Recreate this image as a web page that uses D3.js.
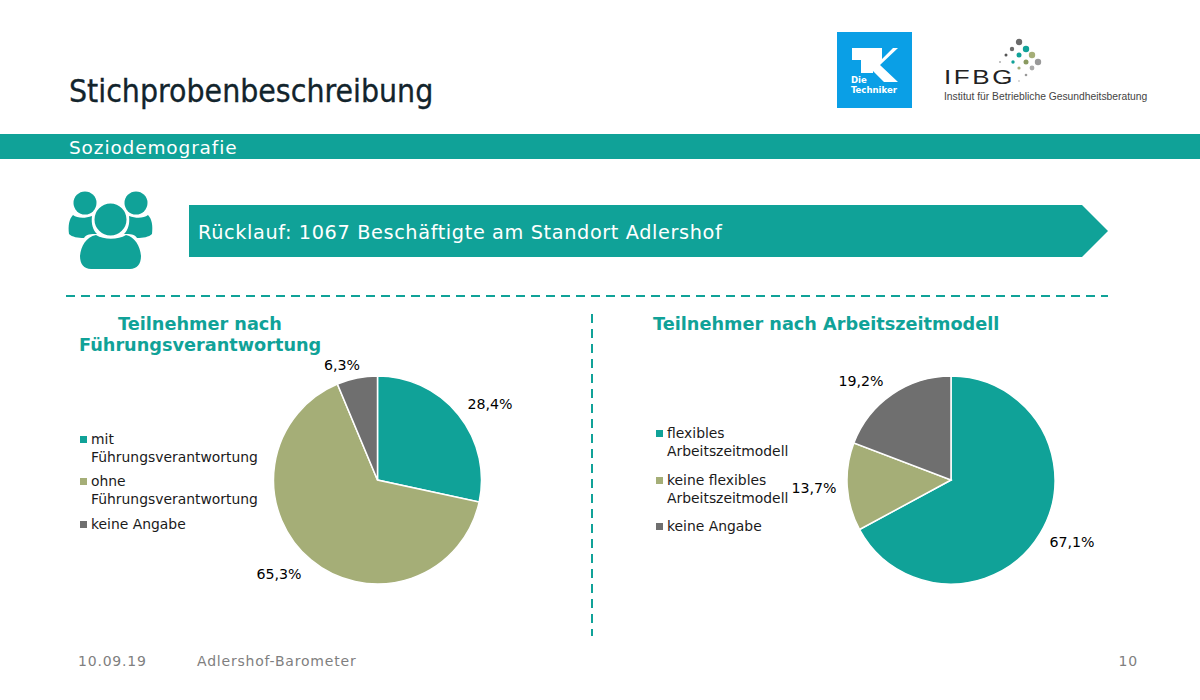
<!DOCTYPE html>
<html lang="de">
<head>
    <meta charset="UTF-8">
    <title>Stichprobenbeschreibung</title>
    <style>
        html, body { margin: 0; padding: 0; background: #fff; }
        svg { display: block; }
        text { font-family: "DejaVu Sans", Verdana, sans-serif; }
    </style>
</head>
<body>
    <svg id="chart" width="1200" height="700"></svg>

    <script src="https://d3js.org/d3.v7.min.js"></script>
    <script>
        // Chart data
        const leftValues = [28.4, 65.3, 6.3];
        const leftLabels = ['28,4%', '65,3%', '6,3%'];
        const leftLegend = [['mit', 'Führungsverantwortung'], ['ohne', 'Führungsverantwortung'], ['keine Angabe']];
        const rightValues = [67.1, 13.7, 19.2];
        const rightLabels = ['67,1%', '13,7%', '19,2%'];
        const rightLegend = [['flexibles', 'Arbeitszeitmodell'], ['keine flexibles', 'Arbeitszeitmodell'], ['keine Angabe']];
        const sliceColors = ['#10a298', '#a5ae77', '#6f6f6f'];

        const TEAL = '#10a298';
        const svg = d3.select('#chart');

        // Header
        svg.append('text').attr('x', 69).attr('y', 102)
            .style('font-family', '"DejaVu Sans Condensed", "DejaVu Sans", sans-serif')
            .style('font-stretch', 'condensed')
            .attr('font-size', 31.7).attr('fill', '#12242c')
            .attr('stroke', '#12242c').attr('stroke-width', 0.3)
            .text('Stichprobenbeschreibung');
        svg.append('rect').attr('x', 0).attr('y', 134).attr('width', 1200).attr('height', 25).attr('fill', TEAL);
        svg.append('text').attr('x', 69).attr('y', 153.5)
            .attr('font-size', 18.5).attr('letter-spacing', 0.87).attr('fill', '#fff').text('Soziodemografie');

        // TK logo
        const tk = svg.append('g');
        tk.append('rect').attr('x', 837).attr('y', 32).attr('width', 75).attr('height', 76).attr('fill', '#0a9fe6');
        tk.append('path').attr('fill', '#fff')
            .attr('d', 'M852,48H882V59L893,48H898L880,65L898,82H884L873,71V73H861V60H852Z');
        tk.append('text').attr('x', 851).attr('y', 83).attr('font-size', 9.5).attr('font-weight', 700)
            .style('font-family', '"DejaVu Sans Condensed", sans-serif')
            .attr('fill', '#fff').text('Die');
        tk.append('text').attr('x', 851).attr('y', 93).attr('font-size', 9.5).attr('font-weight', 700)
            .style('font-family', '"DejaVu Sans Condensed", sans-serif')
            .attr('fill', '#fff').text('Techniker');

        // IFBG logo
        const ifbgDots = [
            [1019, 42, 3.2, '#6b6b6b'], [1012, 49, 2.2, '#6b6b6b'], [1026, 49, 3.2, '#10a298'],
            [1006, 55, 1.5, '#555'], [1019, 55, 2.5, '#10a298'], [1032, 55, 3.2, '#a5ae77'],
            [1000, 62, 0.8, '#777'], [1013, 62, 1.7, '#10a298'], [1026, 62, 2.5, '#8a9a60'], [1038, 62, 3.2, '#999'],
            [1019, 68, 1.6, '#a5ae77'], [1032, 68, 2.4, '#aaa'], [1026, 75, 1.3, '#999'], [1019, 81, 0.7, '#999']
        ];
        svg.append('g').selectAll('circle').data(ifbgDots).join('circle')
            .attr('cx', d => d[0]).attr('cy', d => d[1]).attr('r', d => d[2]).attr('fill', d => d[3]);
        svg.append('text').attr('transform', 'translate(944,84) scale(1.3,1)')
            .style('font-family', '"Liberation Sans", sans-serif')
            .attr('font-size', 20).attr('letter-spacing', 2).attr('fill', '#222').text('IFBG');
        svg.append('text').attr('x', 944).attr('y', 100)
            .style('font-family', '"Liberation Sans", sans-serif')
            .attr('font-size', 10.3).attr('fill', '#444').text('Institut für Betriebliche Gesundheitsberatung');

        // People icon
        const people = svg.append('g').attr('fill', TEAL);
        people.append('circle').attr('cx', 85).attr('cy', 203).attr('r', 11.5);
        people.append('circle').attr('cx', 136).attr('cy', 203).attr('r', 11.5);
        people.append('path').attr('d', 'M73,215C77,218 84,219 92,216C91,224 93,230 97,234C91,234 86,234 84,238C78,238 72,237 69,234C68,226 69,219 73,215Z');
        people.append('path').attr('d', 'M148,215C144,218 137,219 129,216C130,224 128,230 124,234C130,234 135,234 137,238C143,238 149,237 152,234C153,226 152,219 148,215Z');
        people.append('circle').attr('cx', 110.5).attr('cy', 219.5).attr('r', 17)
            .attr('stroke', '#fff').attr('stroke-width', 2);
        people.append('path').attr('d', 'M96,235C104,240 118,240 126,235C135,237 140,246 141,256C141,264 137,269 130,269H91C84,269 80,264 80,256C81,246 86,237 96,235Z');

        // Arrow banner
        svg.append('path').attr('fill', TEAL).attr('d', 'M189,205H1082L1108,231L1082,257H189Z');
        svg.append('text').attr('x', 198).attr('y', 239)
            .attr('font-size', 19.3).attr('letter-spacing', 0.62).attr('fill', '#fff').text('Rücklauf: 1067 Beschäftigte am Standort Adlershof');

        // Dashed separators
        svg.append('line').attr('x1', 66).attr('x2', 1108).attr('y1', 296).attr('y2', 296)
            .attr('stroke', TEAL).attr('stroke-width', 2).attr('stroke-dasharray', '9 6');
        svg.append('line').attr('x1', 592).attr('x2', 592).attr('y1', 314).attr('y2', 636)
            .attr('stroke', TEAL).attr('stroke-width', 2).attr('stroke-dasharray', '9 6');

        // Panel titles
        const titleStyle = sel => sel.attr('font-size', 17.7).attr('font-weight', 700).attr('fill', TEAL);
        svg.append('text').attr('x', 118).attr('y', 330).call(titleStyle).text('Teilnehmer nach');
        svg.append('text').attr('x', 79).attr('y', 351).call(titleStyle).text('Führungsverantwortung');
        svg.append('text').attr('x', 653).attr('y', 330).call(titleStyle).text('Teilnehmer nach Arbeitszeitmodell');

        function drawPie(cx, cy, values, labels, labelPos) {
            const pie = d3.pie().sort(null).value(d => d);
            const arc = d3.arc().innerRadius(0).outerRadius(104);
            const g = svg.append('g').attr('transform', `translate(${cx},${cy})`);
            g.selectAll('path').data(pie(values)).join('path')
                .attr('d', arc)
                .attr('fill', (d, i) => sliceColors[i])
                .attr('stroke', '#fff').attr('stroke-width', 1.5);
            svg.append('g').selectAll('text').data(labels).join('text')
                .attr('x', (d, i) => labelPos[i][0]).attr('y', (d, i) => labelPos[i][1])
                .attr('text-anchor', 'middle').attr('font-size', 14.2).attr('fill', '#000')
                .text(d => d);
        }

        function drawLegend(x, rows) {
            const g = svg.append('g');
            rows.forEach((r, i) => {
                g.append('rect').attr('x', x).attr('y', r.y - 8).attr('width', 7).attr('height', 7)
                    .attr('fill', sliceColors[i]);
                r.lines.forEach((line, j) => {
                    g.append('text').attr('x', x + 11).attr('y', r.y + j * 18)
                        .attr('font-size', 13.9).attr('fill', '#1a1a1a').text(line);
                });
            });
        }

        drawPie(377.5, 480, leftValues, leftLabels, [[490, 409], [279, 579], [342, 370]]);
        drawPie(951, 480, rightValues, rightLabels, [[1072, 547], [814, 493], [861, 386]]);

        drawLegend(80, [
            { y: 444, lines: leftLegend[0] },
            { y: 486, lines: leftLegend[1] },
            { y: 529, lines: leftLegend[2] }
        ]);
        drawLegend(656, [
            { y: 438, lines: rightLegend[0] },
            { y: 485, lines: rightLegend[1] },
            { y: 531, lines: rightLegend[2] }
        ]);

        // Footer
        const footer = [['10.09.19', 78, 'start'], ['Adlershof-Barometer', 197, 'start'], ['10', 1138, 'end']];
        svg.append('g').selectAll('text').data(footer).join('text')
            .attr('x', d => d[1]).attr('y', 666).attr('text-anchor', d => d[2])
            .attr('font-size', 14).attr('letter-spacing', 0.8).attr('fill', '#7f7f7f').text(d => d[0]);
    </script>
</body>
</html>
